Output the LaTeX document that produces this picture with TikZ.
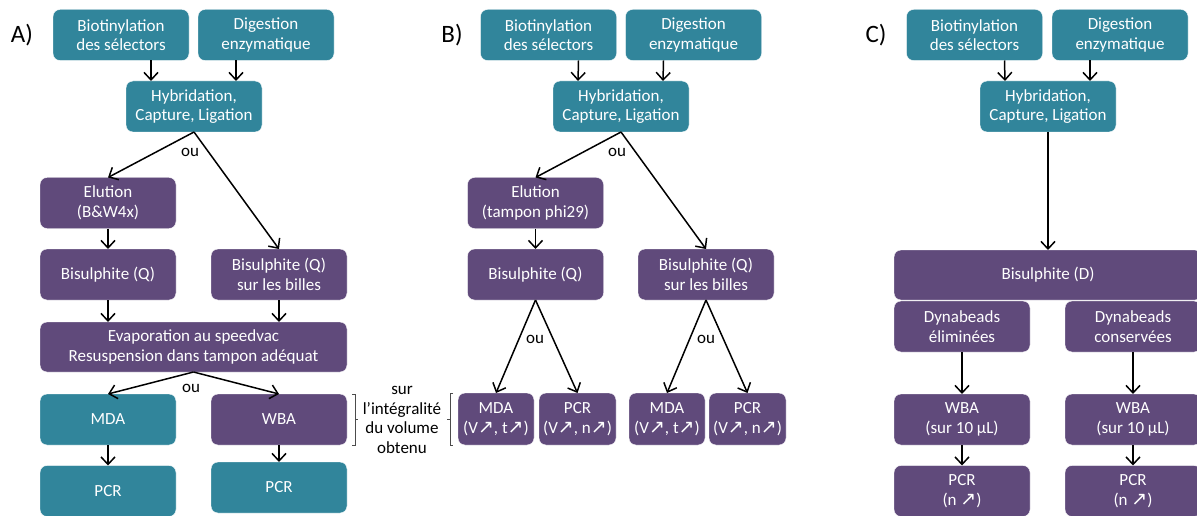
\documentclass[tikz,border=0pt]{standalone}
\usepackage{fontspec}
\setmainfont{Carlito}
\newfontfamily\arrowfont{DejaVu Sans}
\usepackage{xcolor}
\usepackage{tikz}
\usetikzlibrary{arrows.meta}
\definecolor{tealbox}{RGB}{49,133,155}
\definecolor{violetbox}{RGB}{96,74,123}
\newcommand{\boxfont}{\fontsize{17}{19.5}\selectfont}
\newcommand{\nup}{{\arrowfont\fontsize{19}{19.5}\selectfont ↗}}

\begin{document}
\begin{tikzpicture}[x=1pt,y=-1pt,
  tbox/.style={draw=white,rounded corners=7pt,minimum width=136pt,minimum height=51pt,
            align=center,font=\boxfont,text=white,fill=tealbox,inner sep=1pt,outer sep=0pt},
  pbox/.style={tbox,fill=violetbox},
  sbox/.style={pbox,minimum width=76pt,minimum height=52pt},
  a/.style={-{Straight Barb[length=7.5pt,width=14pt]},line width=1.5pt},
  lbl/.style={font=\boxfont,inner sep=0pt,align=center},
  big/.style={font=\fontsize{25}{28}\selectfont,inner sep=0pt},
  brk/.style={draw=black!70,line width=0.8pt}
]
\useasboundingbox (0,0) rectangle (1197,516);
\clip (0,0) rectangle (1197,516);

% A)
\node[big] (labA) at (22,35) {A)};
\node[tbox] (bioA) at (121,35)    {Biotinylation\\des sélectors};
\node[tbox] (digA) at (266,35)    {Digestion\\enzymatique};
\node[tbox] (hybA) at (194,106.5) {Hybridation,\\Capture, Ligation};
\node[pbox] (eluA) at (108,203)   {Elution\\(B\&W4x)};
\node[pbox] (bisA) at (108,274.5) {Bisulphite (Q)};
\node[pbox] (bilA) at (279,274.5) {Bisulphite (Q)\\sur les billes};
\node[pbox,minimum width=307pt,minimum height=50pt] (evaA) at (193.5,347)
  {Evaporation au speedvac\\Resuspension dans tampon adéquat};
\node[tbox] (mdaA) at (108,419.5) {MDA};
\node[pbox] (wbaA) at (279,419.5) {WBA};
\node[tbox] (pcrA) at (108,491)   {PCR};
\node[tbox] (pcrAA) at (279,487.5) {PCR};
\node[lbl] (ouA) at (190,152) {ou};
\node[lbl] (ouAA) at (191,388) {ou};
\draw[a]([xshift=30pt]bioA.south)--([xshift=-43pt]hybA.north);
\draw[a]([xshift=-30pt]digA.south)--([xshift=42pt]hybA.north);
\draw[a](hybA.south)--(eluA.north);\draw[a](hybA.south)--(bilA.north);
\draw[a](eluA)--(bisA);
\draw[a](bisA)--(bisA|-evaA.north);\draw[a](bilA)--(bilA|-evaA.north);
\draw[a](evaA.south)--(mdaA.north);\draw[a](evaA.south)--(wbaA.north);
\draw[a](mdaA)--(pcrA);\draw[a](wbaA)--(pcrAA);

% bracket + note
\draw[brk]([xshift=5pt]wbaA.north east)--([xshift=8pt]wbaA.north east)
  --([xshift=8pt]wbaA.south east)--([xshift=5pt]wbaA.south east);
\draw[brk]([xshift=8pt]wbaA.east)--([xshift=11pt]wbaA.east);
\node[lbl] (sur) at (402,420) {sur\\l’intégralité\\du volume\\obtenu};

% B)
\node[big] (labB) at (452,35) {B)};
\node[tbox] (bioB) at (548.5,35)  {Biotinylation\\des sélectors};
\node[tbox] (digB) at (693.5,35)  {Digestion\\enzymatique};
\node[tbox] (hybB) at (621,106.5) {Hybridation,\\Capture, Ligation};
\node[pbox] (eluB) at (535.5,203) {Elution\\(tampon phi29)};
\node[pbox] (bisB) at (535.5,274.5) {Bisulphite (Q)};
\node[pbox] (bilB) at (706,274.5) {Bisulphite (Q)\\sur les billes};
\node[sbox] (mdaB) at (496,419)   {MDA\\(V\nup, t\nup)};
\node[sbox,minimum width=77pt] (pcrB) at (577.5,419) {PCR\\(V\nup, n\nup)};
\node[sbox] (mdaBB) at (667,419)  {MDA\\(V\nup, t\nup)};
\node[sbox,minimum width=77pt] (pcrBB) at (747.5,419) {PCR\\(V\nup, n\nup)};
\node[lbl] (ouB) at (617,152) {ou};
\node[lbl] (ouBB) at (535,339) {ou};
\node[lbl] (ouBBB) at (706,339) {ou};
\draw[a]([xshift=30pt]bioB.south)--([xshift=-43pt]hybB.north);
\draw[a]([xshift=-30pt]digB.south)--([xshift=42pt]hybB.north);
\draw[a](hybB.south)--(eluB.north);\draw[a](hybB.south)--(bilB.north);
\draw[a](eluB)--(bisB);
\draw[a](bisB.south)--(mdaB.north);\draw[a](bisB.south)--(pcrB.north);
\draw[a](bilB.south)--(mdaBB.north);\draw[a](bilB.south)--(pcrBB.north);
\draw[brk]([xshift=-5pt]mdaB.north west)--([xshift=-8pt]mdaB.north west)
  --([xshift=-8pt]mdaB.south west)--([xshift=-5pt]mdaB.south west);
\draw[brk]([xshift=-8pt]mdaB.west)--([xshift=-11pt]mdaB.west);

% C)
\node[big] (labC) at (876,35) {C)};
\node[tbox] (bioC) at (974.5,35)   {Biotinylation\\des sélectors};
\node[tbox] (digC) at (1120,35)    {Digestion\\enzymatique};
\node[tbox] (hybC) at (1048,106.5) {Hybridation,\\Capture, Ligation};
\node[pbox,minimum width=308pt,minimum height=50pt] (bisC) at (1048,275) {Bisulphite (D)};
\node[pbox] (dynC) at (962,326.5)   {Dynabeads\\éliminées};
\node[pbox] (dynCC) at (1133,326.5) {Dynabeads\\conservées};
\node[pbox] (wbaC) at (962,419.5)   {WBA\\(sur 10 µL)};
\node[pbox] (wbaCC) at (1133,419.5) {WBA\\(sur 10 µL)};
\node[pbox] (pcrC) at (962,491)     {PCR\\(n \nup)};
\node[pbox] (pcrCC) at (1133,491)   {PCR\\(n \nup)};
\draw[a]([xshift=30pt]bioC.south)--([xshift=-43pt]hybC.north);
\draw[a]([xshift=-30pt]digC.south)--([xshift=42pt]hybC.north);
\draw[a](hybC)--(bisC);
\draw[a](dynC)--(wbaC);\draw[a](dynCC)--(wbaCC);
\draw[a](wbaC)--(pcrC);\draw[a](wbaCC)--(pcrCC);
\end{tikzpicture}
\end{document}
